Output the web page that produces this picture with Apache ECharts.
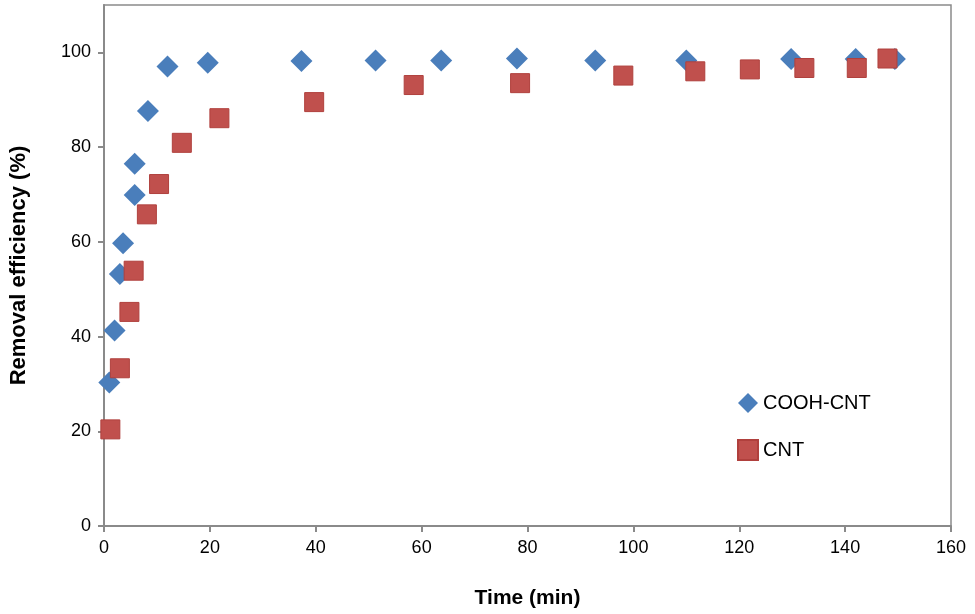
<!DOCTYPE html>
<html>
<head>
<meta charset="utf-8">
<script src="https://cdn.jsdelivr.net/npm/echarts@6/dist/echarts.min.js"></script>
<style>
  html, body { margin: 0; padding: 0; background: #fff; }
  #chart { width: 975px; height: 614px; }
</style>
</head>
<body>
<div id="chart"></div>
<script>
// values: [time (min), removal efficiency (%)]
const coohCnt = [
    [1, 30.3], [2, 41.3], [3, 53.2], [3.6, 59.7], [5.8, 69.9], [5.8, 76.5],
    [8.3, 87.6], [12, 97], [19.6, 97.8], [37.3, 98.2], [51.3, 98.3],
    [63.7, 98.3], [78, 98.7], [92.8, 98.3], [110, 98.3], [129.8, 98.6],
    [142, 98.6], [149.4, 98.6]
];
const cnt = [
    [1.2, 20.4], [3, 33.3], [4.8, 45.2], [5.6, 53.9], [8.1, 65.8], [10.4, 72.2],
    [14.7, 80.9], [21.8, 86.1], [39.7, 89.5], [58.5, 93.1], [78.6, 93.5],
    [98.1, 95.1], [111.7, 96], [122, 96.4], [132.3, 96.7], [142.2, 96.7],
    [148, 98.7]
];
const seriesNames = ['COOH-CNT', 'CNT'];
const yTicks = [0, 20, 40, 60, 80, 100];

const font = 'Liberation Sans, Arial, sans-serif';
const axisGray = '#8a8a8a';

let chart = echarts.init(document.getElementById('chart'));
let option = {
    animation: false,
    backgroundColor: '#fff',
    grid: {
        left: 102, right: 24, top: 5, bottom: 88,
        show: true, borderColor: axisGray, borderWidth: 1.5
    },
    legend: {
        orient: 'vertical',
        left: 732, top: 388,
        itemGap: 26,
        itemWidth: 20, itemHeight: 20,
        textStyle: { fontFamily: font, fontSize: 20, color: '#000' },
        data: [
            { name: seriesNames[0], icon: 'diamond' },
            { name: seriesNames[1], icon: 'rect' }
        ]
    },
    xAxis: {
        type: 'value',
        min: 0, max: 160, interval: 20,
        name: 'Time (min)',
        nameLocation: 'middle',
        nameGap: 62,
        nameTextStyle: { fontFamily: font, fontSize: 21, fontWeight: 'bold', color: '#000' },
        axisLine: { show: true, lineStyle: { color: axisGray, width: 2 } },
        axisTick: { show: true, inside: false, length: 6, lineStyle: { color: axisGray, width: 2 } },
        axisLabel: { margin: 13, fontFamily: font, fontSize: 18, color: '#000' },
        splitLine: { show: false }
    },
    yAxis: {
        type: 'value',
        min: 0, max: 110, interval: 20,
        name: 'Removal efficiency (%)',
        nameLocation: 'middle',
        nameGap: 74,
        nameTextStyle: { fontFamily: font, fontSize: 22, fontWeight: 'bold', color: '#000' },
        axisLine: { show: true, lineStyle: { color: axisGray, width: 2 } },
        axisTick: {
            show: true, inside: false, length: 6, customValues: yTicks,
            lineStyle: { color: axisGray, width: 2 }
        },
        axisLabel: {
            margin: 13, fontFamily: font, fontSize: 18, color: '#000',
            customValues: yTicks
        },
        splitLine: { show: false }
    },
    series: [
        {
            name: seriesNames[0],
            type: 'scatter',
            symbol: 'diamond',
            symbolSize: [22, 22],
            itemStyle: { color: '#4A7EBB', opacity: 1 },
            data: coohCnt
        },
        {
            name: seriesNames[1],
            type: 'scatter',
            symbol: 'rect',
            symbolSize: [19, 19],
            itemStyle: { color: '#C0504D', borderColor: '#B0403D', borderWidth: 1, opacity: 1 },
            data: cnt
        }
    ]
};
chart.setOption(option);
</script>
</body>
</html>
